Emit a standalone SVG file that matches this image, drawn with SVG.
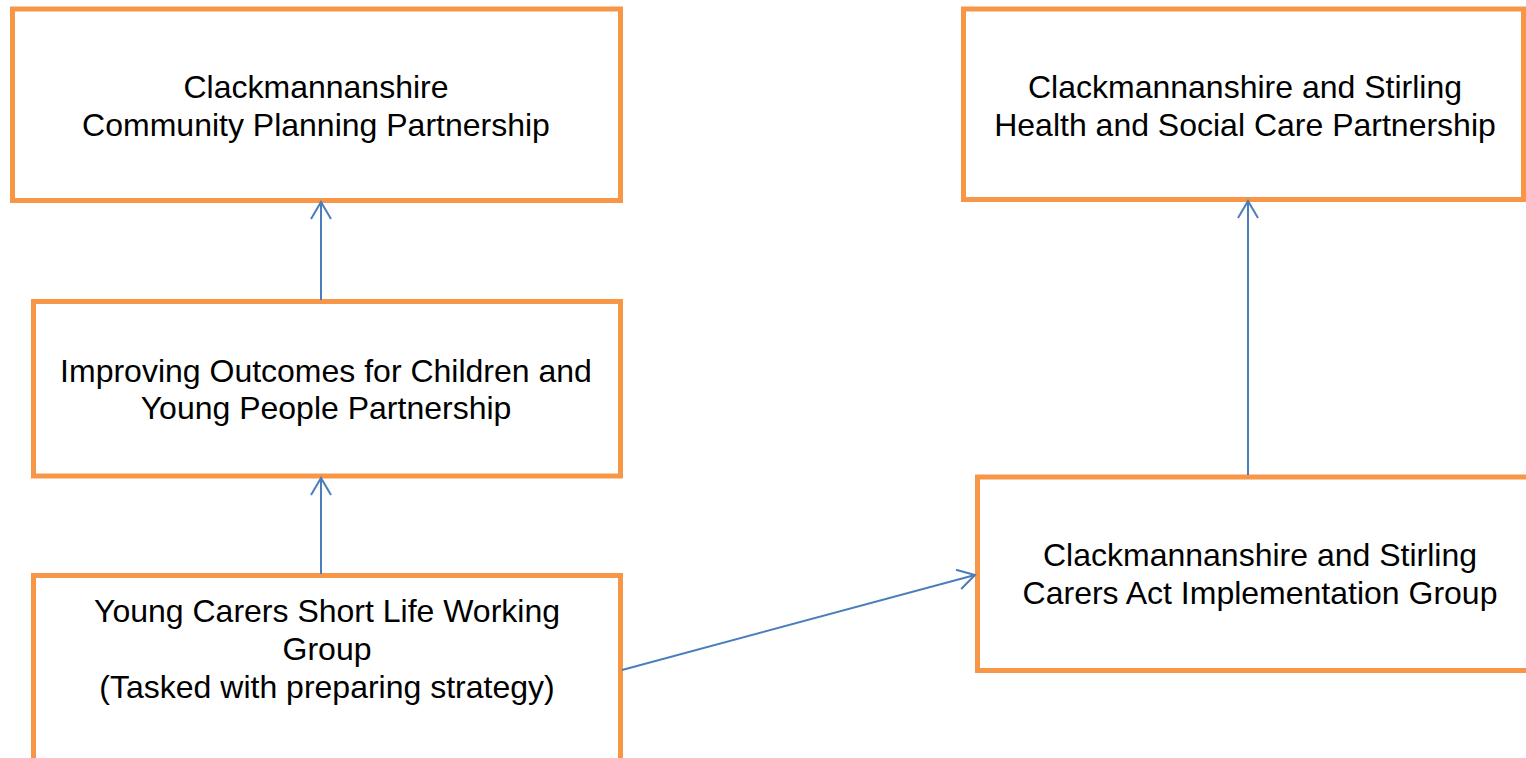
<svg xmlns="http://www.w3.org/2000/svg" width="1526" height="758" viewBox="0 0 1526 758">
<style>
.box{fill:#fff;stroke:#F79646;stroke-width:5}
.lbl{font-family:"Liberation Sans",Arial,sans-serif;font-size:32px;fill:#000;text-anchor:middle}
.conn{stroke:#4A7EBB;stroke-width:2;fill:none;marker-end:url(#arr)}
</style>
<defs>
<marker id="arr" viewBox="0 0 20 22" refX="18" refY="11" markerWidth="20" markerHeight="22" markerUnits="userSpaceOnUse" orient="auto">
<path d="M1,1 L18,11 L1,21" fill="none" stroke="#4A7EBB" stroke-width="2"/>
</marker>
</defs>
<rect width="1526" height="758" fill="#fff"/>
<g id="n1"><rect class="box" x="12.5" y="9" width="608" height="191.5"/>
<text class="lbl" x="316" y="98">Clackmannanshire</text>
<text class="lbl" x="316" y="136">Community Planning Partnership</text></g>
<g id="n2"><rect class="box" x="33.5" y="301.5" width="587" height="174.5"/>
<text class="lbl" x="326" y="382">Improving Outcomes for Children and</text>
<text class="lbl" x="326" y="419">Young People Partnership</text></g>
<g id="n3"><rect class="box" x="33.5" y="575.5" width="587" height="200"/>
<text class="lbl" x="327" y="622">Young Carers Short Life Working</text>
<text class="lbl" x="327" y="660">Group</text>
<text class="lbl" x="327" y="698">(Tasked with preparing strategy)</text></g>
<g id="n4"><rect class="box" x="963.5" y="9" width="560" height="190.5"/>
<text class="lbl" x="1245" y="98">Clackmannanshire and Stirling</text>
<text class="lbl" x="1245" y="136">Health and Social Care Partnership</text></g>
<g id="n5"><rect class="box" x="977.5" y="477" width="560" height="193.5"/>
<text class="lbl" x="1260" y="566">Clackmannanshire and Stirling</text>
<text class="lbl" x="1260" y="604">Carers Act Implementation Group</text></g>
<g id="connectors">
<line class="conn" x1="321" y1="300" x2="321" y2="202"/>
<line class="conn" x1="321" y1="574" x2="321" y2="478"/>
<line class="conn" x1="1248" y1="475" x2="1248" y2="201"/>
<line class="conn" x1="622" y1="670" x2="975" y2="575"/>
</g>
</svg>
